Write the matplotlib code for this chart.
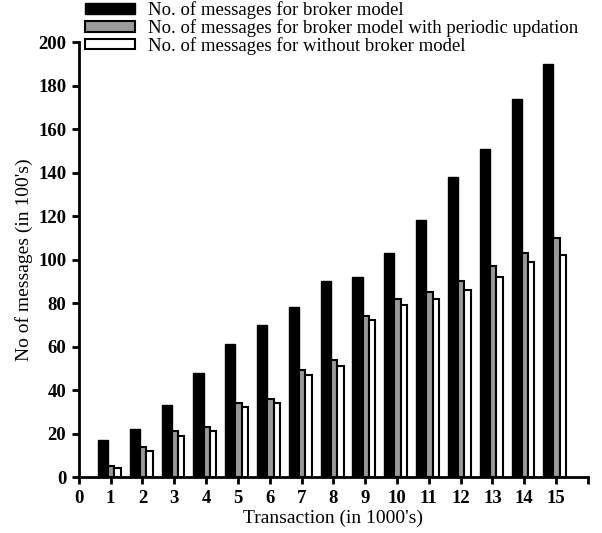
import matplotlib.pyplot as plt
import numpy as np

plt.rcParams["font.family"] = "Liberation Serif"

transactions = np.arange(1, 16)

# values (in 100's)
broker = [17, 22, 33, 48, 61, 70, 78, 90, 92, 103, 118, 138, 151, 174, 190]
broker_periodic = [5, 14, 21, 23, 34, 36, 49, 54, 74, 82, 85, 90, 97, 103, 110]
without_broker = [4, 12, 19, 21, 32, 34, 47, 51, 72, 79, 82, 86, 92, 99, 102]

labels = ["No. of messages for broker model",
          "No. of messages for broker model with periodic updation",
          "No. of messages for without broker model"]

fig = plt.figure(figsize=(6.02, 5.33), dpi=100)
ax = fig.add_axes([0.131, 0.105, 0.8455, 0.816])

b1 = ax.bar(transactions - 0.40, broker, width=0.32, align="edge",
            color="black", edgecolor="black", linewidth=1.0)
b2 = ax.bar(transactions - 0.08, broker_periodic, width=0.20, align="edge",
            color="#999999", edgecolor="black", linewidth=1.5)
b3 = ax.bar(transactions + 0.12, without_broker, width=0.20, align="edge",
            color="white", edgecolor="black", linewidth=1.5)

ax.set_xlim(0, 16)
ax.set_ylim(0, 200)
ax.set_xticks(np.arange(0, 17))
ax.set_xticklabels([str(i) for i in range(16)] + [""])
ax.set_yticks(np.arange(0, 201, 20))

for s in ["top", "right"]:
    ax.spines[s].set_visible(False)
for s in ["left", "bottom"]:
    ax.spines[s].set_linewidth(2)

ax.tick_params(axis="both", width=2, length=5, labelsize=13.5, pad=4)
for t in ax.get_xticklabels() + ax.get_yticklabels():
    t.set_fontweight("bold")

ax.set_xlabel("Transaction (in 1000's)", fontsize=14, labelpad=2)
ax.set_ylabel("No of messages (in 100's)", fontsize=14, labelpad=4)

fig.legend([b1, b2, b3], labels, loc="upper left", bbox_to_anchor=(0.128, 1.012),
           frameon=False, fontsize=13.5, handlelength=2.7, handleheight=0.5,
           labelspacing=0.0, handletextpad=0.7, borderaxespad=0)

plt.savefig("out.png", dpi=100)
